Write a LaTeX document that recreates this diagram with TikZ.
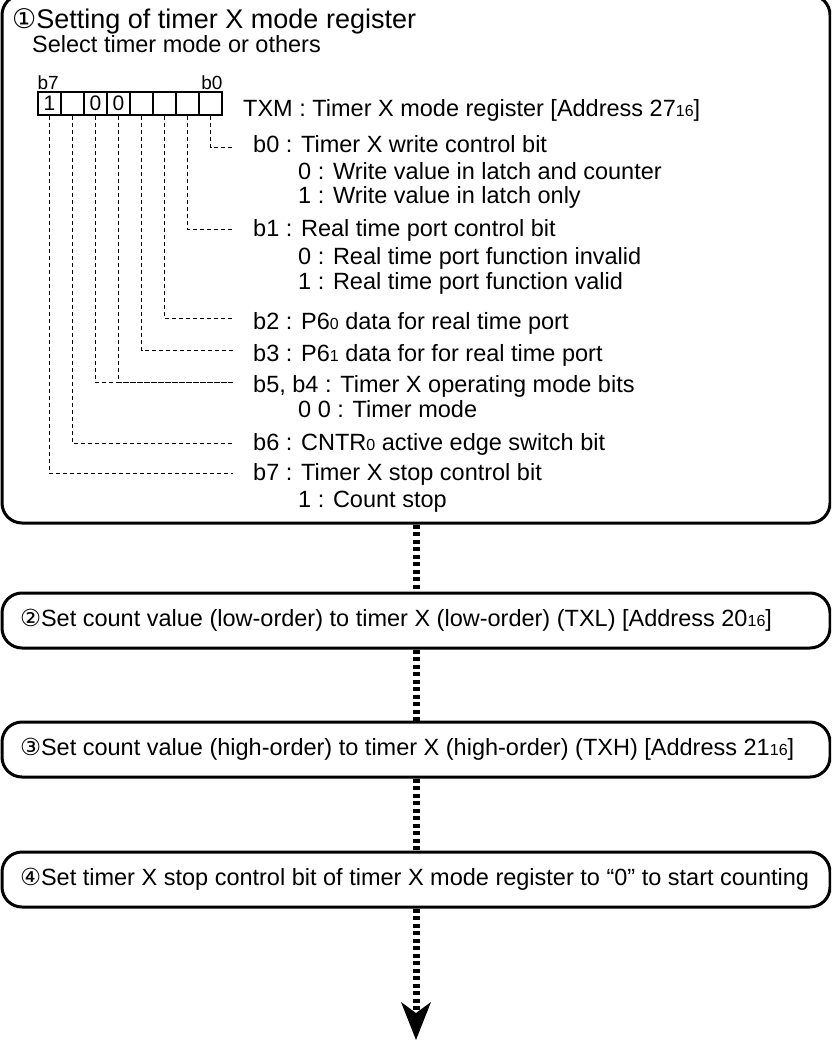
\documentclass[tikz,border=0pt]{standalone}
\usepackage{fontspec}
\setmainfont{Liberation Sans}
\newfontfamily\circfont{DejaVu Sans}
\usetikzlibrary{arrows.meta, positioning}
\newcommand\bodyfont{\fontsize{23.5}{28}\selectfont}
\newcommand\lo[1]{{\fontsize{16}{16}\selectfont #1}}

\begin{document}
\begin{tikzpicture}[x=1pt, y=-1pt,
		stepbox/.style={draw, line width=3pt, rounded corners=20pt,
			minimum width=828pt, minimum height=55pt,
			inner xsep=18pt, inner ysep=0pt, font=\bodyfont},
		txt/.style={anchor=base west, inner sep=0pt, font=\bodyfont},
		cell/.style={draw, line width=1.2pt, minimum width=23pt,
			minimum height=23pt, inner sep=0pt,
			font=\fontsize{21}{21}\selectfont},
		lead/.style={line width=0.8pt, dash pattern=on 4pt off 3pt},
		flow/.style={line width=7pt, dash pattern=on 4pt off 3.5pt}
		]
		\useasboundingbox (0,0) rectangle (831,1040);
		\clip (0,0) rectangle (831,1040);
		
		% ── Step 1: mode register ──
		\node[stepbox, minimum height=528pt] (box1) at (416,259) {};
		\node[txt, font=\fontsize{27}{30}\selectfont] (title) at (12,29)
			{{\circfont ①}Setting of timer X mode register};
		\node[txt] (sel) at (32,52.5) {Select timer mode or others};
		
		% register cells, b7 on the left
		\foreach \b/\v [count=\k from 0] in {7/1,6/{},5/0,4/0,3/{},2/{},1/{},0/{}}
			\node[cell] (bit\b) at ({49.5+23*\k},103.5) {\v};
		\node[inner sep=0pt, anchor=south west, yshift=2pt,
			font=\fontsize{19}{19}\selectfont] (hi) at (bit7.north west) {b7};
		\node[inner sep=0pt, anchor=south east, yshift=2pt,
			font=\fontsize{19}{19}\selectfont] (lo) at (bit0.north east) {b0};
		\node[txt] (txm) at (243,117) {TXM : Timer X mode register [Address 27\lo{16}]};
		
		% bit descriptions
		\node[txt] (d0)  at (253,153) {b0 : Timer X write control bit};
		\node[txt] (d0a) at (298,180) {0 : Write value in latch and counter};
		\node[txt] (d0b) at (298,204) {1 : Write value in latch only};
		\node[txt] (d1)  at (253,237) {b1 : Real time port control bit};
		\node[txt] (d1a) at (298,265) {0 : Real time port function invalid};
		\node[txt] (d1b) at (298,290) {1 : Real time port function valid};
		\node[txt] (d2)  at (253,329) {b2 : P6\lo{0} data for real time port};
		\node[txt] (d3)  at (253,361) {b3 : P6\lo{1} data for for real time port};
		\node[txt] (d54) at (253,392) {b5, b4 : Timer X operating mode bits};
		\node[txt] (d54a) at (298,417) {0 0 : Timer mode};
		\node[txt] (d6)  at (253,450) {b6 : CNTR\lo{0} active edge switch bit};
		\node[txt] (d7)  at (253,480) {b7 : Timer X stop control bit};
		\node[txt] (d7a) at (298,507) {1 : Count stop};
		
		% lead ends
		\coordinate (e0)  at (233,147);
		\coordinate (e1)  at (233,229);
		\coordinate (e2)  at (233,318);
		\coordinate (e3)  at (233,350);
		\coordinate (e54) at (233,382);
		\coordinate (e6)  at (233,443);
		\coordinate (e7)  at (233,473);
		\draw[lead] (bit0.south) |- (e0);
		\draw[lead] (bit1.south) |- (e1);
		\draw[lead] (bit2.south) |- (e2);
		\draw[lead] (bit3.south) |- (e3);
		\draw[lead] (bit5.south) |- (e54);
		\draw[lead] (bit4.south) |- (e54);
		\draw[lead] (bit6.south) |- (e6);
		\draw[lead] (bit7.south) |- (e7);
		
		% ── Steps 2 to 4 ──
		\node[stepbox] (box2) at (416,620.5)
			{\makebox[792pt][l]{{\circfont ②}Set count value (low-order) to timer X (low-order) (TXL) [Address 20\lo{16}]}};
		\node[stepbox] (box3) at (416,749.5)
			{\makebox[792pt][l]{{\circfont ③}Set count value (high-order) to timer X (high-order) (TXH) [Address 21\lo{16}]}};
		\node[stepbox] (box4) at (416,879.5)
			{\makebox[792pt][l]{{\circfont ④}Set timer X stop control bit of timer X mode register to “0” to start counting}};
		\coordinate (tip) at (416,1040);
		
		% Flow between steps
		\draw[flow] (box1.south) -- (box2.north);
		\draw[flow] (box2.south) -- (box3.north);
		\draw[flow] (box3.south) -- (box4.north);
		\draw[flow, -{Stealth[length=38pt, width=30pt, inset=11pt, line width=0pt]}]
			(box4.south) -- (tip);
	\end{tikzpicture}
\end{document}
